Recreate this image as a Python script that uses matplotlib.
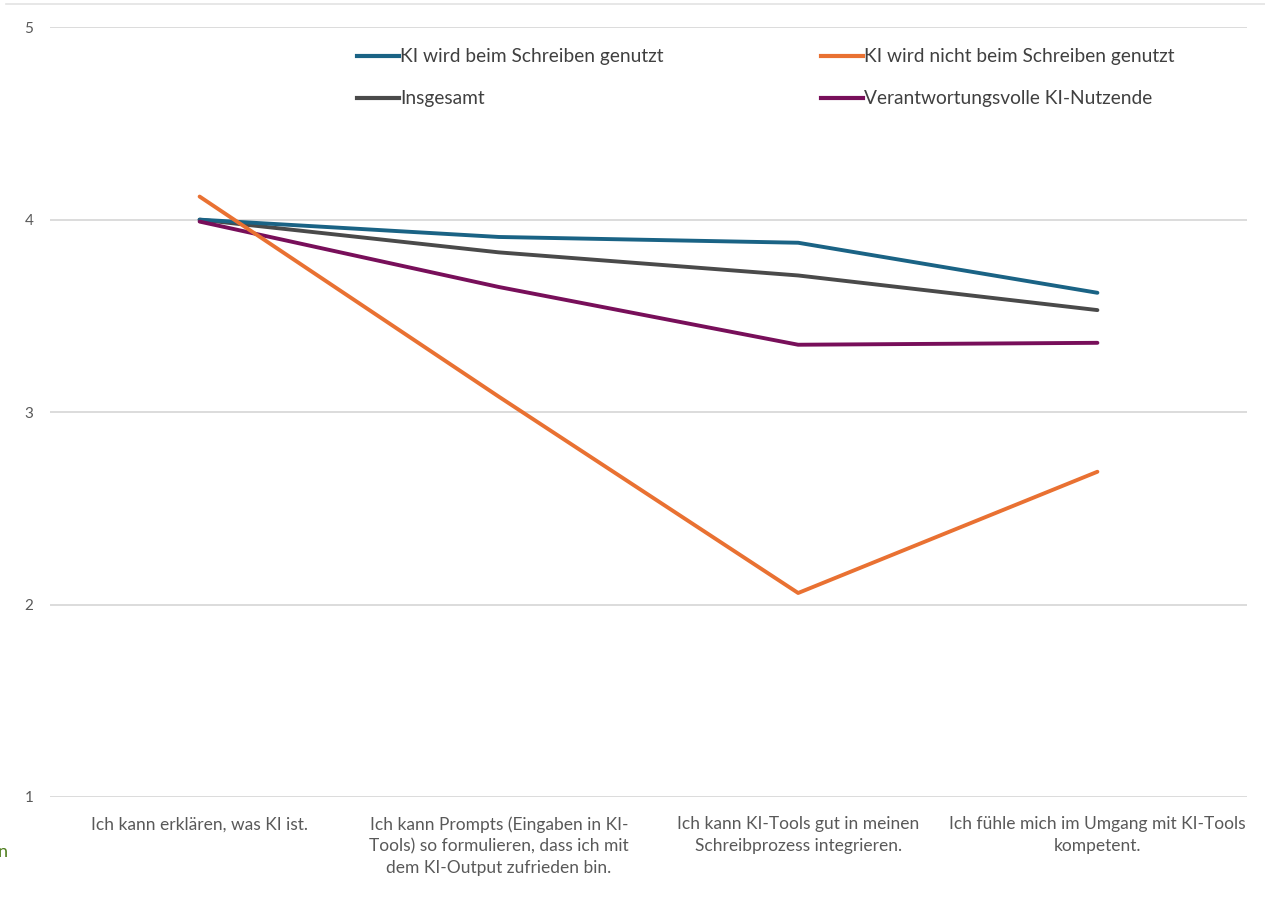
import matplotlib.pyplot as plt
from matplotlib.lines import Line2D

categories = [
    "Ich kann erklären, was KI ist.",
    "Ich kann Prompts (Eingaben in KI-\nTools) so formulieren, dass ich mit\ndem KI-Output zufrieden bin.",
    "Ich kann KI-Tools gut in meinen\nSchreibprozess integrieren.",
    "Ich fühle mich im Umgang mit KI-Tools\nkompetent.",
]
ki_genutzt = [4.00, 3.91, 3.88, 3.62]
ki_nicht_genutzt = [4.12, 3.08, 2.06, 2.69]
insgesamt = [4.00, 3.83, 3.71, 3.53]
verantwortungsvoll = [3.99, 3.65, 3.35, 3.36]

series = [
    ("KI wird beim Schreiben genutzt", ki_genutzt, "#1a6385"),
    ("Insgesamt", insgesamt, "#4a4a4a"),
    ("KI wird nicht beim Schreiben genutzt", ki_nicht_genutzt, "#e97132"),
    ("Verantwortungsvolle KI-Nutzende", verantwortungsvoll, "#780f5a"),
]

plt.rcParams['font.family'] = ['Lato', 'DejaVu Sans']

fig = plt.figure(figsize=(12.65, 9.07), dpi=100)
ax = fig.add_axes([0.0395, 0.1213, 0.9463, 0.8487])

x = list(range(len(categories)))
# draw the overall line first so the others sit on top of it
for name, vals, col in [series[1], series[0], series[3], series[2]]:
    ax.plot(x, vals, color=col, linewidth=2.8, solid_capstyle='round', zorder=3)

ax.set_xlim(-0.5, 3.5)
ax.set_ylim(1, 5)
ax.set_yticks([1, 2, 3, 4, 5])
ax.set_xticks(x)
ax.set_xticklabels(categories, fontsize=12.5, color="#595959", linespacing=1.4)
ax.tick_params(axis='y', labelsize=11, labelcolor="#595959", length=0, pad=12)
ax.tick_params(axis='x', length=0, pad=14)
ax.grid(axis='y', color="#d9d9d9", linewidth=1.3)
ax.set_axisbelow(True)
for s in ax.spines.values():
    s.set_visible(False)

handles = [Line2D([], [], color=c, linewidth=3) for _, _, c in series]
labels = [n for n, _, _ in series]
ax.legend(handles, labels, ncol=2, loc='upper left', bbox_to_anchor=(0.242, 0.995),
          frameon=False, fontsize=13.8, labelcolor="#404040",
          handlelength=2.2, handletextpad=0.05, columnspacing=8.2, labelspacing=1.3)

# thin border line at the top and the cut-off letter at the left edge
fig.add_artist(Line2D([0.005, 1.0], [0.996, 0.996], color="#e3e3e3", linewidth=1.2,
                      transform=fig.transFigure))
fig.text(-0.002, 0.061, "n", color="#4f7f1e", fontsize=13, va='center', ha='left')

fig.savefig("out.png", dpi=100)
